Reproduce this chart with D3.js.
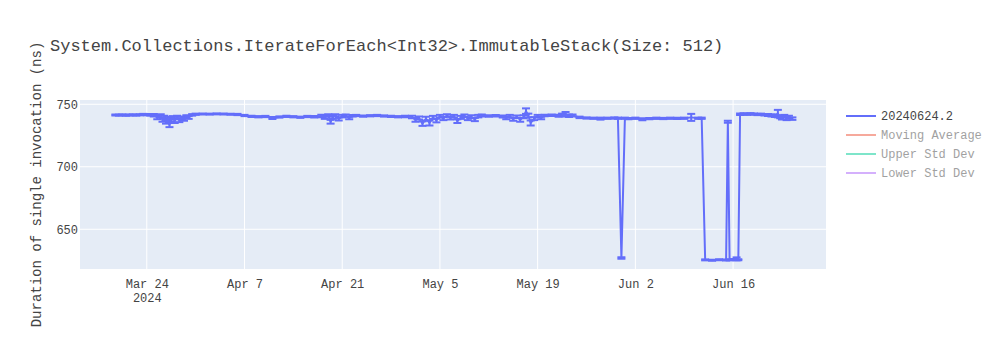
<!DOCTYPE html>
<html>
<head>
<meta charset="utf-8">
<script src="https://cdn.jsdelivr.net/npm/d3@7"></script>
<style>
  body { margin: 0; background: #fff; }
  svg { display: block; }
  text { font-family: "Liberation Mono", "Courier New", monospace; fill: #444; }
</style>
</head>
<body>
<svg id="chart" width="1000" height="350"></svg>
<script>
const titleText = "System.Collections.IterateForEach<Int32>.ImmutableStack(Size: 512)";
const yTitle = "Duration of single invocation (ns)";

const dates = [
  "2024-03-19T12:00","2024-03-20T00:00","2024-03-20T12:00","2024-03-21T00:00","2024-03-21T12:00",
  "2024-03-22T00:00","2024-03-22T12:00","2024-03-23T00:00","2024-03-23T12:00","2024-03-24T00:00",
  "2024-03-24T12:00","2024-03-25T00:00","2024-03-25T12:00","2024-03-26T00:00","2024-03-26T06:00",
  "2024-03-26T12:00","2024-03-26T18:00","2024-03-27T00:00","2024-03-27T06:00","2024-03-27T12:00",
  "2024-03-27T18:00","2024-03-28T00:00","2024-03-28T08:00","2024-03-28T16:00","2024-03-29T00:00",
  "2024-03-29T08:00","2024-03-29T16:00","2024-03-30T00:00","2024-03-30T12:00","2024-03-31T00:00",
  "2024-04-01T00:00","2024-04-02T00:00","2024-04-03T00:00","2024-04-04T00:00","2024-04-05T00:00",
  "2024-04-06T00:00","2024-04-07T00:00","2024-04-08T00:00","2024-04-09T00:00","2024-04-10T00:00",
  "2024-04-11T00:00","2024-04-12T00:00","2024-04-13T00:00","2024-04-14T00:00","2024-04-15T00:00",
  "2024-04-16T00:00","2024-04-17T00:00","2024-04-18T00:00","2024-04-18T12:00","2024-04-19T00:00",
  "2024-04-19T08:00","2024-04-19T16:00","2024-04-20T00:00","2024-04-20T12:00","2024-04-21T00:00",
  "2024-04-21T12:00","2024-04-22T00:00","2024-04-22T12:00","2024-04-23T00:00","2024-04-24T00:00",
  "2024-04-25T00:00","2024-04-26T00:00","2024-04-27T00:00","2024-04-28T00:00","2024-04-29T00:00",
  "2024-04-30T00:00","2024-05-01T00:00","2024-05-01T12:00","2024-05-02T00:00","2024-05-02T12:00",
  "2024-05-03T00:00","2024-05-03T12:00","2024-05-04T00:00","2024-05-04T12:00","2024-05-05T00:00",
  "2024-05-05T12:00","2024-05-06T00:00","2024-05-06T12:00","2024-05-07T00:00","2024-05-07T12:00",
  "2024-05-08T00:00","2024-05-08T12:00","2024-05-09T00:00","2024-05-09T12:00","2024-05-10T00:00",
  "2024-05-10T12:00","2024-05-11T00:00","2024-05-12T00:00","2024-05-13T00:00","2024-05-14T00:00",
  "2024-05-14T12:00","2024-05-15T00:00","2024-05-15T12:00","2024-05-16T00:00","2024-05-16T12:00",
  "2024-05-17T00:00","2024-05-17T08:00","2024-05-17T16:00","2024-05-18T00:00","2024-05-18T12:00",
  "2024-05-19T00:00","2024-05-19T12:00","2024-05-20T00:00","2024-05-21T00:00","2024-05-22T00:00",
  "2024-05-22T12:00","2024-05-23T00:00","2024-05-23T12:00","2024-05-24T00:00","2024-05-25T00:00",
  "2024-05-26T00:00","2024-05-27T00:00","2024-05-28T00:00","2024-05-29T00:00","2024-05-30T00:00",
  "2024-05-30T12:00","2024-05-31T00:00","2024-05-31T12:00","2024-06-01T00:00","2024-06-02T00:00",
  "2024-06-03T00:00","2024-06-04T00:00","2024-06-05T00:00","2024-06-06T00:00","2024-06-07T00:00",
  "2024-06-08T00:00","2024-06-09T00:00","2024-06-10T00:00","2024-06-11T00:00","2024-06-11T12:00",
  "2024-06-12T00:00","2024-06-13T00:00","2024-06-14T00:00","2024-06-15T00:00","2024-06-15T06:00",
  "2024-06-15T12:00","2024-06-16T00:00","2024-06-16T12:00","2024-06-16T18:00","2024-06-17T00:00",
  "2024-06-17T12:00","2024-06-18T00:00","2024-06-18T12:00","2024-06-19T00:00","2024-06-19T12:00",
  "2024-06-20T00:00","2024-06-20T12:00","2024-06-21T00:00","2024-06-21T12:00","2024-06-22T00:00",
  "2024-06-22T10:00","2024-06-22T18:00","2024-06-23T00:00","2024-06-23T08:00","2024-06-23T16:00",
  "2024-06-24T00:00","2024-06-24T12:00"
];

const values = [
  741.4,741.3,741.5,741.2,741.4,
  741.5,741.3,741.6,741.8,741.7,
  741.5,741.2,739.5,740.8,737.5,
  739.8,736.0,738.5,733.5,737.8,
  739.5,736.5,739.8,737.2,739.0,
  738.0,740.2,739.5,741.5,742.0,
  742.2,742.1,742.3,742.2,742.0,
  741.8,741.0,740.3,740.0,740.2,
  739.0,739.8,740.3,740.0,739.6,
  740.2,740.0,740.6,739.5,741.0,
  736.0,739.5,741.2,738.2,740.5,
  741.0,739.0,740.8,741.0,740.5,
  740.8,741.0,740.6,740.3,740.0,
  740.2,739.8,737.5,739.0,734.5,
  738.5,735.0,739.5,737.0,740.5,
  738.5,741.0,739.0,740.5,736.5,
  739.5,740.8,738.5,740.0,737.8,
  740.5,741.0,740.6,740.8,740.2,
  739.0,740.5,738.0,740.0,737.5,
  740.0,744.5,741.0,735.0,738.5,
  740.5,739.0,741.0,741.2,740.8,
  741.5,742.0,740.8,741.0,739.5,
  739.0,738.8,738.5,738.8,739.0,
  738.8,627.0,738.8,738.5,738.8,
  738.0,738.5,738.8,738.6,738.8,
  738.7,738.8,739.5,738.8,738.8,
  625.5,625.2,625.6,625.4,736.0,
  625.5,625.8,626.3,625.6,742.0,
  742.3,742.0,742.4,742.1,741.8,
  742.0,741.6,741.4,741.0,740.8,
  742.5,740.0,739.0,740.5,738.5,
  739.8,738.5
];

const errors = [
  0.4,0.4,0.4,0.4,0.4,
  0.4,0.4,0.4,0.5,0.5,
  0.6,1.0,1.5,1.2,1.5,
  1.0,1.5,1.5,1.8,1.5,
  1.0,1.5,1.0,1.5,1.2,
  1.2,1.0,1.2,0.6,0.5,
  0.4,0.4,0.4,0.4,0.4,
  0.5,0.5,0.5,0.5,0.5,
  0.8,0.5,0.5,0.5,0.5,
  0.5,0.6,1.0,1.2,1.0,
  1.5,1.2,0.8,1.2,1.0,
  0.8,1.0,0.6,0.5,0.5,
  0.5,0.5,0.5,0.5,0.5,
  0.6,1.0,1.5,1.2,1.8,
  1.5,2.0,1.2,1.5,1.0,
  1.2,1.0,1.2,1.0,1.5,
  1.2,1.0,1.2,1.2,1.3,
  1.0,0.8,0.6,0.6,0.8,
  1.0,1.0,1.2,1.0,1.5,
  1.2,2.2,1.5,2.0,1.2,
  1.0,1.0,0.6,0.6,0.8,
  1.0,1.8,1.0,0.8,0.6,
  0.5,0.5,0.8,0.5,0.5,
  0.5,0.6,0.5,0.5,0.5,
  0.8,0.5,0.5,0.5,0.5,
  0.5,0.5,2.8,0.5,0.5,
  0.4,0.4,0.4,0.4,0.8,
  0.4,0.4,1.2,0.4,0.6,
  0.5,0.5,0.5,0.5,0.5,
  0.5,0.6,0.8,0.8,1.0,
  3.0,1.2,1.2,1.0,1.2,
  1.0,1.0
];

const xTickDates = ["2024-03-24","2024-04-07","2024-04-21","2024-05-05","2024-05-19","2024-06-02","2024-06-16"];
const xRange = ["2024-03-14T10:20","2024-06-29T07:30"];
const yTicks = [650, 700, 750];
const yRange = [618.2, 753.4];

const legendNames = ["20240624.2", "Moving Average", "Upper Std Dev", "Lower Std Dev"];
const legendColors = ["#636efa", "#EF553B", "#00cc96", "#ab63fa"];
const legendVisible = [true, false, false, false];

// ---------- layout ----------
const parse = d3.utcParse("%Y-%m-%dT%H:%M");
const parseDay = d3.utcParse("%Y-%m-%d");
const M = { left: 80, top: 100, right: 826, bottom: 269 };
const W = M.right - M.left, H = M.bottom - M.top;

const svg = d3.select("#chart");
svg.append("rect").attr("width", 1000).attr("height", 350).attr("fill", "#fff");

const x = d3.scaleUtc().domain(xRange.map(parse)).range([0, W]);
const y = d3.scaleLinear().domain(yRange).range([H, 0]);

const g = svg.append("g").attr("transform", `translate(${M.left},${M.top})`);
g.append("rect").attr("width", W).attr("height", H).attr("fill", "#E5ECF6");

// gridlines
const xt = xTickDates.map(parseDay);
g.append("g").selectAll("line").data(xt).join("line")
  .attr("x1", d => x(d)).attr("x2", d => x(d))
  .attr("y1", 0).attr("y2", H)
  .attr("stroke", "#fff").attr("stroke-width", 1);
g.append("g").selectAll("line").data(yTicks).join("line")
  .attr("x1", 0).attr("x2", W)
  .attr("y1", d => y(d)).attr("y2", d => y(d))
  .attr("stroke", "#fff").attr("stroke-width", 1);

// axes
const fmt = d3.utcFormat("%b %-d");
const xAxis = g.append("g").attr("transform", `translate(0,${H})`)
  .call(d3.axisBottom(x).tickValues(xt).tickSize(0).tickPadding(10).tickFormat(fmt));
xAxis.select(".domain").remove();
xAxis.selectAll("text").attr("font-size", 12).attr("fill", "#444")
  .style("font-family", '"Liberation Mono", monospace');
xAxis.selectAll(".tick").filter((d, i) => i === 0).select("text")
  .append("tspan").attr("x", 0).attr("dy", "1.2em").text("2024");

const yAxis = g.append("g")
  .call(d3.axisLeft(y).tickValues(yTicks).tickSize(0).tickPadding(2));
yAxis.select(".domain").remove();
yAxis.selectAll("text").attr("font-size", 12).attr("fill", "#444")
  .style("font-family", '"Liberation Mono", monospace');

// data
const pts = dates.map((d, i) => ({ t: parse(d), v: values[i], e: errors[i] }));
const clip = g.append("clipPath").attr("id", "clip").append("rect").attr("width", W).attr("height", H);
const plot = g.append("g").attr("clip-path", "url(#clip)");
const color = legendColors[0];

const eb = plot.append("g").attr("stroke", color).attr("stroke-width", 2).attr("fill", "none");
pts.forEach(p => {
  const cx = x(p.t), y1 = y(p.v + p.e), y2 = y(p.v - p.e);
  eb.append("line").attr("x1", cx).attr("x2", cx).attr("y1", y1).attr("y2", y2);
  eb.append("line").attr("x1", cx - 4).attr("x2", cx + 4).attr("y1", y1).attr("y2", y1);
  eb.append("line").attr("x1", cx - 4).attr("x2", cx + 4).attr("y1", y2).attr("y2", y2);
});

plot.append("path").datum(pts)
  .attr("d", d3.line().x(p => x(p.t)).y(p => y(p.v)))
  .attr("fill", "none").attr("stroke", color).attr("stroke-width", 2)
  .attr("stroke-linejoin", "round");

// title
svg.append("text").attr("x", 50).attr("y", 51).attr("font-size", 17)
  .text(titleText);

// y title
svg.append("text")
  .attr("transform", `translate(41,${M.top + H / 2}) rotate(-90)`)
  .attr("text-anchor", "middle").attr("font-size", 14)
  .text(yTitle);

// legend
const lg = svg.append("g").attr("transform", "translate(846,116)");
legendNames.forEach((n, i) => {
  const row = lg.append("g").attr("transform", `translate(0,${i * 19})`)
    .attr("opacity", legendVisible[i] ? 1 : 0.5);
  row.append("line").attr("x1", 0).attr("x2", 30).attr("y1", 0).attr("y2", 0)
    .attr("stroke", legendColors[i]).attr("stroke-width", 2);
  row.append("text").attr("x", 35).attr("y", 0).attr("dy", "0.35em")
    .attr("font-size", 12).text(n);
});
</script>
</body>
</html>
